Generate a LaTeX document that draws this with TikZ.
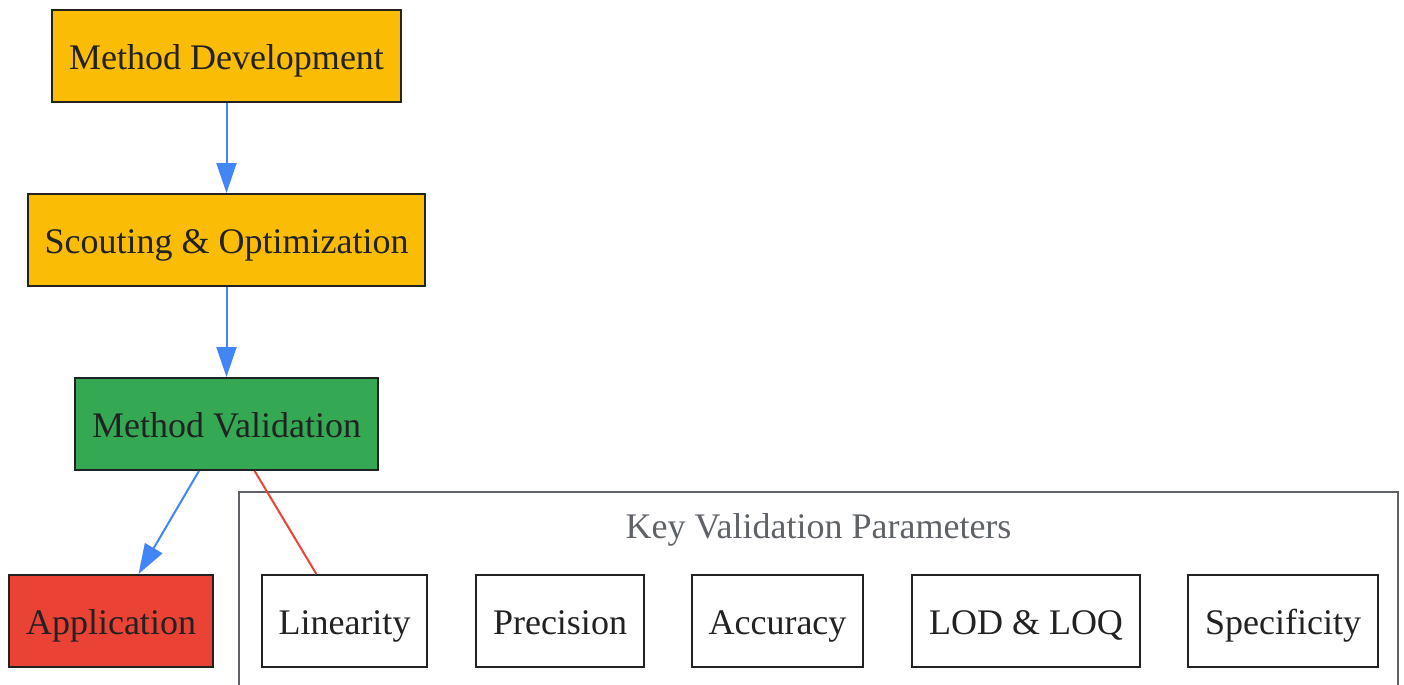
\documentclass[tikz,border=0pt]{standalone}
\usepackage{fontspec}
\setmainfont{Liberation Serif}
\usetikzlibrary{arrows.meta}
\definecolor{gyellow}{RGB}{251, 188, 5}
\definecolor{ggreen}{RGB}{52, 168, 83}
\definecolor{gred}{RGB}{234, 67, 53}
\definecolor{gblue}{RGB}{66, 133, 244}
\definecolor{ggray}{RGB}{95, 99, 104}
\definecolor{dgray}{RGB}{34, 34, 34}

\tikzset{
	box/.style = {rectangle, draw = dgray, line width = 1pt, text = dgray, inner xsep = 8.5pt, minimum height = 46pt, text height = 16pt, text depth = 3pt, font = \fontsize{18}{22}\selectfont},
	flow/.style = {draw = gblue, line width = 1pt, -{Triangle[length = 15pt, width = 10pt]}},
	link/.style = {draw = gred, line width = 1pt}
}

\begin{document}
\begin{tikzpicture}[x = 0.5pt, y = -0.5pt]
			\clip (0,0) rectangle (1404,685);
			% parameter cluster
			\draw[ggray, line width = 1pt] (239,492) rectangle (1398,720);
			\node (title) at (818.5,525) [text = ggray, text height = 16pt, text depth = 3pt, font = \fontsize{18}{22}\selectfont] {Key Validation Parameters};
			\node (dev) at (226.5,56) [box, fill = gyellow] {Method Development};
			\node (scout) at (226.5,240) [box, fill = gyellow] {Scouting \& Optimization};
			\node (valid) at (226.5,424) [box, fill = ggreen] {Method Validation};
			\node (app) at (111,621) [box, fill = gred] {Application};
			\node (lin) at (344.5,621) [box, fill = white] {Linearity};
			\node (prec) at (560,621) [box, fill = white] {Precision};
			\node (acc) at (777.5,621) [box, fill = white] {Accuracy};
			\node (lod) at (1026,621) [box, fill = white] {LOD \& LOQ};
			\node (spec) at (1283,621) [box, fill = white] {Specificity};
			\draw[flow] (dev) -- (scout);
			\draw[flow] (scout) -- (valid);
			\draw[flow] (valid) -- (app);
			\draw[link] (valid) -- (lin);
\end{tikzpicture}
\end{document}
